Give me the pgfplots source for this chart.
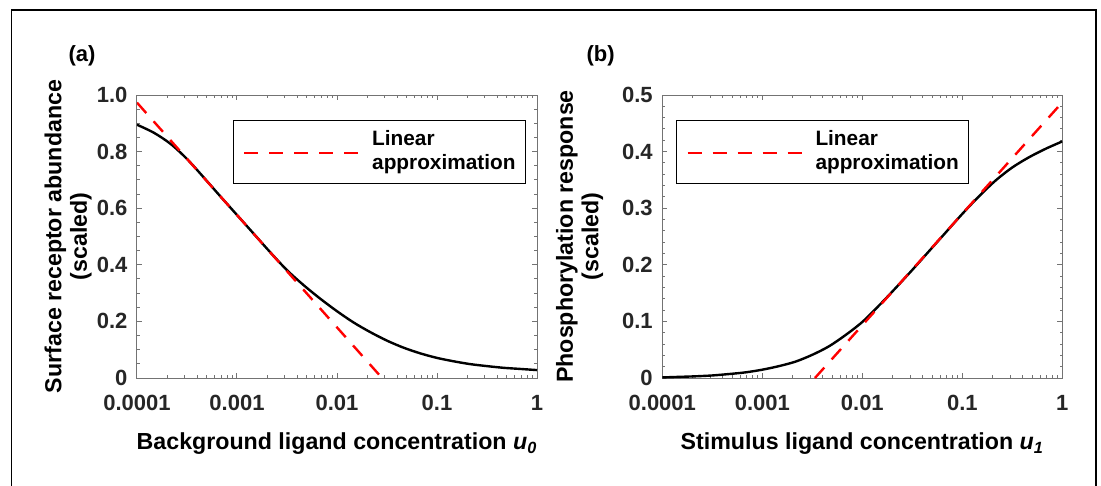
\documentclass[border=0pt]{standalone}
\usepackage{fontspec}
\setmainfont{Liberation Sans}
\usepackage{pgfplots}
\pgfplotsset{compat=1.18}
\tikzset{
 blk/.style={black, line width=1.2pt},
 rdd/.style={red, line width=1.2pt, dash pattern=on 7pt off 5.5pt},
}
\pgfplotsset{
 every axis/.append style={
  scale only axis, width=200pt, height=141.5pt,
  tick align=inside,
  major tick length=2.5pt, minor tick length=1.3pt,
  axis line style={black!55, line width=0.5pt},
  every tick/.style={black!55, line width=0.5pt},
  tick label style={font=\fontsize{11}{13}\selectfont\bfseries, text=black!85},
  xticklabel style={anchor=north, inner sep=0pt, yshift=-8.6pt},
  yticklabel style={anchor=east, inner sep=0pt, xshift=-4.6pt},
  label style={font=\fontsize{11.6}{12.75}\selectfont\bfseries, text=black},
  xlabel style={at={(axis description cs:0.5,-0.232)}, anchor=center},
  ylabel style={anchor=center, align=center},
  legend style={draw=black, line width=0.6pt, fill=white, anchor=north west,
    inner xsep=5pt, inner ysep=4.9pt,
    font=\fontsize{10.4}{12.35}\selectfont\bfseries,
    nodes={inner sep=0pt, text depth=0.2em, align=left},
    column sep=6.3pt},
  legend cell align=left,
 },
 legend image code/.code={\draw[#1] (0pt,-0.5pt) -- (57pt,-0.5pt);},
}
\begin{document}
\begin{tikzpicture}
\useasboundingbox (0,0) rectangle (550.5pt,-243pt);
\draw[line width=0.6pt] (5.85pt,-245pt) -- (5.85pt,-5pt) -- (548pt,-5pt) -- (548pt,-245pt);
\node[font=\fontsize{11}{13}\selectfont\bfseries] at (41pt,-28.1pt) {(a)};
\node[font=\fontsize{11}{13}\selectfont\bfseries] at (300.3pt,-28.1pt) {(b)};
\begin{axis}[
  at={(68.5pt,-189pt)}, anchor=south west,
  xmode=log, xmin=1e-4, xmax=1,
  xtick={1e-4,1e-3,1e-2,1e-1,1},
  xticklabels={0.0001,0.001,0.01,0.1,1},
  ymin=0, ymax=1,
  ytick={0,0.2,0.4,0.6,0.8,1},
  yticklabels={0,0.2,0.4,0.6,0.8,1.0},
  minor y tick num=3,
  xlabel={Background ligand concentration {\itshape u\textsubscript{0}}},
  ylabel={Surface receptor abundance\\(scaled)},
  ylabel style={at={(axis description cs:-0.172,0.5)}},
  legend style={at={(rel axis cs:0.239,0.913)}},
]
\addplot[blk, smooth, forget plot] coordinates {
(1e-4,0.895) (1.468e-4,0.867) (2.154e-4,0.828) (3.162e-4,0.774)
(4.642e-4,0.709) (6.813e-4,0.642) (1e-3,0.576) (1.468e-3,0.510)
(2.154e-3,0.444) (3.162e-3,0.381) (4.642e-3,0.328) (6.813e-3,0.280)
(1e-2,0.236) (1.468e-2,0.196) (2.154e-2,0.162) (3.162e-2,0.132)
(4.642e-2,0.107) (6.813e-2,0.087) (0.1,0.071) (0.1468,0.059)
(0.2154,0.049) (0.3162,0.042) (0.4642,0.036) (0.6813,0.032) (1,0.028)};
\addplot[rdd] coordinates {(1e-4,0.973) (0.0282,0)};
\addlegendentry{{Linear\\approximation}}
\end{axis}
\begin{axis}[
  at={(331.15pt,-189pt)}, anchor=south west,
  xmode=log, xmin=1e-4, xmax=1,
  xtick={1e-4,1e-3,1e-2,1e-1,1},
  xticklabels={0.0001,0.001,0.01,0.1,1},
  ymin=0, ymax=0.5,
  ytick={0,0.1,0.2,0.3,0.4,0.5},
  yticklabels={0,0.1,0.2,0.3,0.4,0.5},
  minor y tick num=4,
  xlabel={Stimulus ligand concentration {\itshape u\textsubscript{1}}},
  ylabel={Phosphorylation response\\(scaled)},
  ylabel style={at={(axis description cs:-0.207,0.5)}},
  legend style={at={(rel axis cs:0.034,0.913)}},
]
\addplot[blk, smooth, forget plot] coordinates {
(1e-4,0.001) (1.468e-4,0.002) (2.154e-4,0.003) (3.162e-4,0.0045)
(4.642e-4,0.007) (6.813e-4,0.010) (1e-3,0.0147) (1.468e-3,0.021)
(2.154e-3,0.029) (3.162e-3,0.041) (4.642e-3,0.056) (6.813e-3,0.076)
(1e-2,0.099) (1.468e-2,0.128) (2.154e-2,0.159) (3.162e-2,0.191)
(4.642e-2,0.224) (6.813e-2,0.257) (0.1,0.290) (0.1468,0.321)
(0.2154,0.349) (0.3162,0.372) (0.4642,0.390) (0.6813,0.405) (1,0.418)};
\addplot[rdd] coordinates {(0.00336,0) (0.926,0.4806)};
\addlegendentry{{Linear\\approximation}}
\end{axis}
\end{tikzpicture}
\end{document}
